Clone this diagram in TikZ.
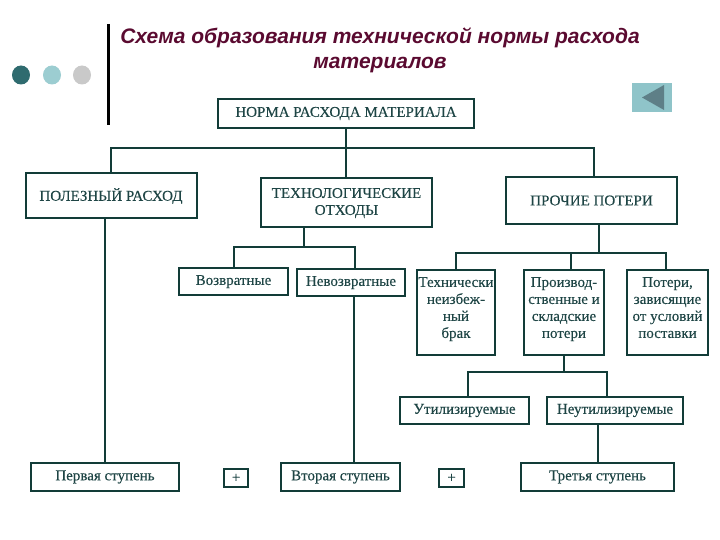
\documentclass[tikz,border=0pt]{standalone}
\usepackage{fontspec}
\setmainfont[FakeBold=0.25]{Liberation Serif}
\newfontfamily\titlefont{Liberation Sans}
\definecolor{lineC}{HTML}{123C38}
\definecolor{textC}{HTML}{1E4545}
\definecolor{titleC}{HTML}{5A0A30}
\definecolor{dotA}{HTML}{2F6B6F}
\definecolor{dotB}{HTML}{9CCDD1}
\definecolor{dotC}{HTML}{C9C9C9}
\definecolor{btnC}{HTML}{8FC4C9}
\definecolor{triC}{HTML}{5E7F87}
\newcommand\tailup[1]{\\[#1]\mbox{}}
\tikzset{
  x=1pt,y=-1pt,
  box/.style={draw=lineC,line width=2pt,rectangle,outer sep=0pt,inner sep=0pt,align=center,text=textC,
    font=\fontsize{15}{17}\selectfont},
  conn/.style={draw=lineC,line width=2pt,line cap=rect},
  dotn/.style={ellipse,minimum width=18pt,minimum height=19pt,inner sep=0pt}
}
\usetikzlibrary{shapes.geometric}
\begin{document}
\begin{tikzpicture}
\useasboundingbox (0,0) rectangle (720,540);
% decoration
\draw[black,line width=3pt] (108,24) -- (108,125);
\node[dotn,fill=dotA] (d1) at (21,75) {};
\node[dotn,fill=dotB] (d2) at (52,75) {};
\node[dotn,fill=dotC] (d3) at (82,75) {};
\fill[btnC] (632,83) rectangle (672,112);
\fill[triC] (642,97.5) -- (664,85) -- (664,110) -- cycle;
\node[align=center,text=titleC,font=\titlefont\bfseries\itshape\fontsize{21}{25}\selectfont] (title) at (380,50.5) {Схема образования технической нормы расхода\\материалов};
% boxes
\node[box,minimum width=256pt,minimum height=29pt] (norma) at (346,113.5) {НОРМА РАСХОДА МАТЕРИАЛА};
\node[box,minimum width=171pt,minimum height=45pt] (pol) at (111,196) {ПОЛЕЗНЫЙ РАСХОД};
\node[box,minimum width=171pt,minimum height=49pt] (tech) at (346.5,202.5) {ТЕХНОЛОГИЧЕСКИЕ\\ОТХОДЫ\tailup{-15pt}};
\node[box,minimum width=171pt,minimum height=47pt] (proch) at (591.5,200.5) {ПРОЧИЕ ПОТЕРИ};
\node[box,minimum width=109pt,minimum height=27pt] (vozv) at (233.5,281.5) {Возвратные\tailup{-14pt}};
\node[box,minimum width=108pt,minimum height=27pt] (nevozv) at (351,282.5) {Невозвратные\tailup{-14pt}};
\node[box,minimum width=78pt,minimum height=85pt] (brak) at (456,312.5) {Технически\\неизбеж-\\ный\\брак\tailup{-7pt}};
\node[box,minimum width=80pt,minimum height=85pt] (proizv) at (564,312.5) {Производ-\\ственные и\\складские\\потери\tailup{-7pt}};
\node[box,minimum width=81pt,minimum height=85pt] (poteri) at (667.5,312.5) {Потери,\\зависящие\\от условий\\поставки\tailup{-7pt}};
\node[box,minimum width=129pt,minimum height=27pt] (util) at (464.5,410.5) {Утилизируемые};
\node[box,minimum width=136pt,minimum height=27pt] (neutil) at (615,410.5) {Неутилизируемые};
\node[box,minimum width=148pt,minimum height=28pt] (perv) at (105,477) {Первая ступень};
\node[box,minimum width=24pt,minimum height=18pt] (plus1) at (236,478) {+};
\node[box,minimum width=119pt,minimum height=28pt] (vtor) at (340.5,477) {Вторая ступень};
\node[box,minimum width=25pt,minimum height=18pt] (plus2) at (451.5,478) {+};
\node[box,minimum width=153pt,minimum height=28pt] (tret) at (597.5,477) {Третья ступень};
% junctions
\coordinate (b1) at (346,148);
\coordinate (b1l) at (111,148);
\coordinate (b1r) at (594,148);
\coordinate (b2) at (304,247);
\coordinate (b2l) at (234,247);
\coordinate (b2r) at (355,247);
\coordinate (b3) at (599,253);
\coordinate (b3l) at (456,253);
\coordinate (b3r) at (666,253);
\coordinate (b3m) at (571,253);
\coordinate (b4) at (564,372);
\coordinate (b4l) at (468,372);
\coordinate (b4r) at (607,372);
\coordinate (c1) at (105,300);
\coordinate (c2) at (354,300);
\coordinate (c3) at (598,440);
% connectors
\draw[conn] (norma.south -| b1) -- (tech.north -| b1);
\draw[conn] (b1l) -- (b1r);
\draw[conn] (b1l) -- (pol.north -| b1l);
\draw[conn] (b1r) -- (proch.north -| b1r);
\draw[conn] (pol.south -| c1) -- (perv.north -| c1);
\draw[conn] (tech.south -| b2) -- (b2);
\draw[conn] (b2l) -- (b2r);
\draw[conn] (b2l) -- (vozv.north -| b2l);
\draw[conn] (b2r) -- (nevozv.north -| b2r);
\draw[conn] (nevozv.south -| c2) -- (vtor.north -| c2);
\draw[conn] (proch.south -| b3) -- (b3);
\draw[conn] (b3l) -- (b3r);
\draw[conn] (b3l) -- (brak.north -| b3l);
\draw[conn] (b3m) -- (proizv.north -| b3m);
\draw[conn] (b3r) -- (poteri.north -| b3r);
\draw[conn] (proizv.south -| b4) -- (b4);
\draw[conn] (b4l) -- (b4r);
\draw[conn] (b4l) -- (util.north -| b4l);
\draw[conn] (b4r) -- (neutil.north -| b4r);
\draw[conn] (neutil.south -| c3) -- (tret.north -| c3);
\end{tikzpicture}
\end{document}
